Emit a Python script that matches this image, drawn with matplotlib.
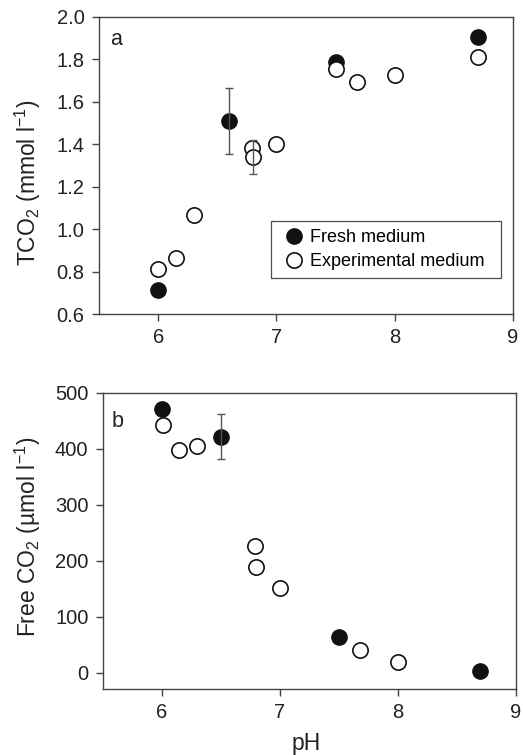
import numpy as np
import matplotlib
matplotlib.use("Agg")
import matplotlib.pyplot as plt

plt.rcParams['font.family'] = ['Liberation Sans', 'DejaVu Sans']
plt.rcParams['mathtext.default'] = 'regular'

# panel a: TCO2 (mmol l-1)
ph_fresh_a = [6.0, 6.6, 7.5, 8.7]
tco2_fresh = [0.712, 1.511, 1.789, 1.904]
tco2_fresh_err = [0, 0.155, 0, 0]
ph_exp_a = [6.0, 6.15, 6.3, 6.79, 6.8, 7.0, 7.5, 7.68, 8.0, 8.7]
tco2_exp = [0.813, 0.866, 1.065, 1.384, 1.341, 1.401, 1.753, 1.695, 1.728, 1.813]
tco2_exp_err = [0, 0, 0, 0, 0.08, 0, 0, 0, 0, 0]

# panel b: free CO2 (umol l-1)
ph_fresh_b = [6.0, 6.5, 7.5, 8.7]
co2_fresh = [471, 422, 64.5, 3]
co2_fresh_err = [0, 40, 0, 0]
ph_exp_b = [6.01, 6.15, 6.3, 6.79, 6.8, 7.0, 7.68, 8.0]
co2_exp = [442, 398, 405, 226, 189, 152, 41, 20]
co2_exp_err = [0, 0, 0, 0, 0, 0, 0, 0]

axis_col = '#444444'
err_col = '#555555'
tick_fs = 14.5
label_fs = 16.5

fig = plt.figure(figsize=(5.23, 7.55), dpi=100)
ax_a = fig.add_axes([99 / 523, 1 - 314 / 755, 414 / 523, 297 / 755])
ax_b = fig.add_axes([102.7 / 523, 1 - 689 / 755, 413 / 523, 296 / 755])


def add_errors(ax, x, y, e):
    x, y, e = np.asarray(x), np.asarray(y), np.asarray(e)
    m = e > 0
    if m.any():
        ax.errorbar(x[m], y[m], yerr=e[m], fmt='none', ecolor=err_col,
                    elinewidth=1.0, capsize=2.6, capthick=1.0, zorder=4)


def draw_panel(ax, xf, yf, ef, xe, ye, ee):
    add_errors(ax, xf, yf, ef)
    add_errors(ax, xe, ye, ee)
    ax.plot(xf, yf, 'o', ms=11, mfc='#111111', mec='#111111', mew=1.0,
            ls='none', zorder=2, label='Fresh medium')
    ax.plot(xe, ye, 'o', ms=11, mfc='white', mec='#111111', mew=1.2,
            ls='none', zorder=3, label='Experimental medium')
    ax.set_xlim(5.5, 9)
    ax.set_xticks([6, 7, 8, 9])
    for sp in ax.spines.values():
        sp.set_color(axis_col)
        sp.set_linewidth(1.0)
    ax.tick_params(direction='out', length=5.3, width=1.0, color=axis_col,
                   labelsize=tick_fs, labelcolor='#222222', pad=5)


draw_panel(ax_a, ph_fresh_a, tco2_fresh, tco2_fresh_err, ph_exp_a, tco2_exp, tco2_exp_err)
ax_a.set_ylim(0.6, 2.0)
yt = np.arange(0.6, 2.01, 0.2)
ax_a.set_yticks(yt)
ax_a.set_yticklabels(['%.1f' % v for v in yt])
ax_a.set_ylabel('TCO$_2$ (mmol l$^{-1}$)', fontsize=label_fs, color='#222222')
ax_a.yaxis.set_label_coords(-0.135, 0.443)
ax_a.text(0.028, 0.906, 'a', transform=ax_a.transAxes, fontsize=15.5,
          va='baseline', ha='left', color='#222222')
leg = ax_a.legend(loc='lower left', bbox_to_anchor=(0.4155, 0.120, 0.555, 0.207),
                  mode='expand', borderaxespad=0, fontsize=13, frameon=True,
                  fancybox=False, edgecolor='#222222', handletextpad=0.1,
                  borderpad=0.45, labelspacing=0.4, handlelength=1.6)
leg.get_frame().set_linewidth(0.9)

draw_panel(ax_b, ph_fresh_b, co2_fresh, co2_fresh_err, ph_exp_b, co2_exp, co2_exp_err)
ax_b.set_ylim(-29, 500)
ax_b.set_yticks([0, 100, 200, 300, 400, 500])
ax_b.set_ylabel('Free CO$_2$ (µmol l$^{-1}$)', fontsize=label_fs, color='#222222')
ax_b.yaxis.set_label_coords(-0.145, 0.513)
ax_b.set_xlabel('pH', fontsize=label_fs, color='#222222')
ax_b.xaxis.set_label_coords(0.492, -0.145)
ax_b.text(0.022, 0.886, 'b', transform=ax_b.transAxes, fontsize=15.5,
          va='baseline', ha='left', color='#222222')

fig.savefig('out.png', dpi=100)
